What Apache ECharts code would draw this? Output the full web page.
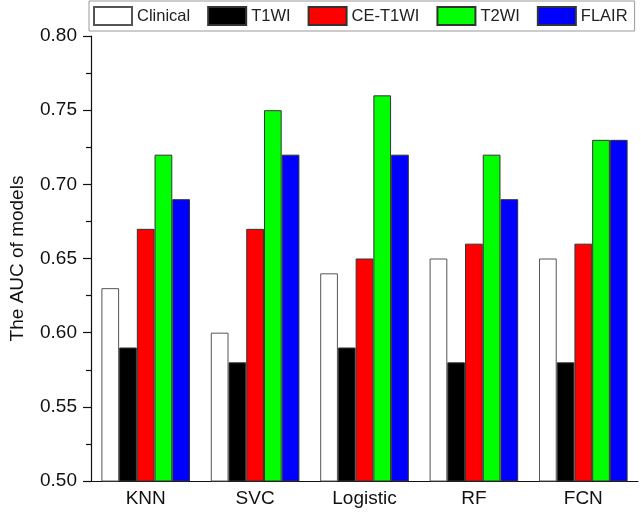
<!DOCTYPE html>
<html>
<head>
<meta charset="utf-8">
<script src="https://cdn.jsdelivr.net/npm/echarts@6/dist/echarts.min.js"></script>
<style>
html,body{margin:0;padding:0;background:#fff;}
#chart{width:641px;height:520px;}
</style>
</head>
<body>
<div id="chart"></div>
<script>
const categories = ['KNN', 'SVC', 'Logistic', 'RF', 'FCN'];
const clinical = [0.63, 0.60, 0.64, 0.65, 0.65];
const t1wi = [0.59, 0.58, 0.59, 0.58, 0.58];
const ceT1wi = [0.67, 0.67, 0.65, 0.66, 0.66];
const t2wi = [0.72, 0.75, 0.76, 0.72, 0.73];
const flair = [0.69, 0.72, 0.72, 0.69, 0.73];
const seriesNames = ['Clinical', 'T1WI', 'CE-T1WI', 'T2WI', 'FLAIR'];
const seriesColors = ['#ffffff', '#000000', '#ff0000', '#00ff00', '#0000ff'];
const seriesData = [clinical, t1wi, ceT1wi, t2wi, flair];

const FONT = '"Liberation Sans", Arial, Helvetica, sans-serif';
const chart = echarts.init(document.getElementById('chart'), null, {renderer: 'canvas'});

const series = seriesNames.map((name, i) => ({
  name: name,
  type: 'bar',
  xAxisIndex: 0,
  data: seriesData[i],
  barGap: '0%',
  barCategoryGap: '19%',
  itemStyle: {color: seriesColors[i], borderColor: i === 0 ? '#555' : '#333', borderWidth: 1},
  emphasis: {disabled: true}
}));

chart.setOption({
  animation: false,
  backgroundColor: '#fff',
  textStyle: {fontFamily: FONT},
  legend: {
    data: seriesNames.map(n => ({name: n, icon: 'rect'})),
    left: 89,
    top: 1,
    padding: [5, 7, 5, 4],
    itemWidth: 38,
    itemHeight: 18,
    itemGap: 17,
    borderColor: '#999',
    borderWidth: 1,
    textStyle: {fontSize: 16.5, color: '#222', fontFamily: FONT},
    selectedMode: false
  },
  grid: {left: 87, right: 3, top: 36, bottom: 39, containLabel: false},
  xAxis: [
    {
      type: 'category',
      data: categories,
      axisLine: {lineStyle: {color: '#111', width: 1.2}},
      axisTick: {alignWithLabel: true, length: 8, lineStyle: {color: '#111', width: 1.2}},
      axisLabel: {fontSize: 19, color: '#111', margin: 8, fontFamily: FONT},
      splitLine: {show: false}
    },
    {
      type: 'category',
      data: categories,
      position: 'bottom',
      axisLine: {show: false},
      axisTick: {alignWithLabel: false, length: 5, lineStyle: {color: '#111', width: 1.2}},
      axisLabel: {show: false},
      splitLine: {show: false}
    }
  ],
  yAxis: {
    type: 'value',
    min: 0.5,
    max: 0.8,
    interval: 0.05,
    name: 'The AUC of models',
    nameLocation: 'middle',
    nameGap: 64,
    nameTextStyle: {fontSize: 19, color: '#111', fontFamily: FONT},
    axisLine: {show: true, lineStyle: {color: '#111', width: 1.2}},
    axisTick: {show: true, inside: false, length: 8, lineStyle: {color: '#111', width: 1.2}},
    minorTick: {show: true, splitNumber: 2, length: 5, lineStyle: {color: '#111', width: 1.2}},
    axisLabel: {fontSize: 19, color: '#111', margin: 14, fontFamily: FONT, formatter: v => v.toFixed(2)},
    splitLine: {show: false}
  },
  series: series
});
</script>
</body>
</html>
